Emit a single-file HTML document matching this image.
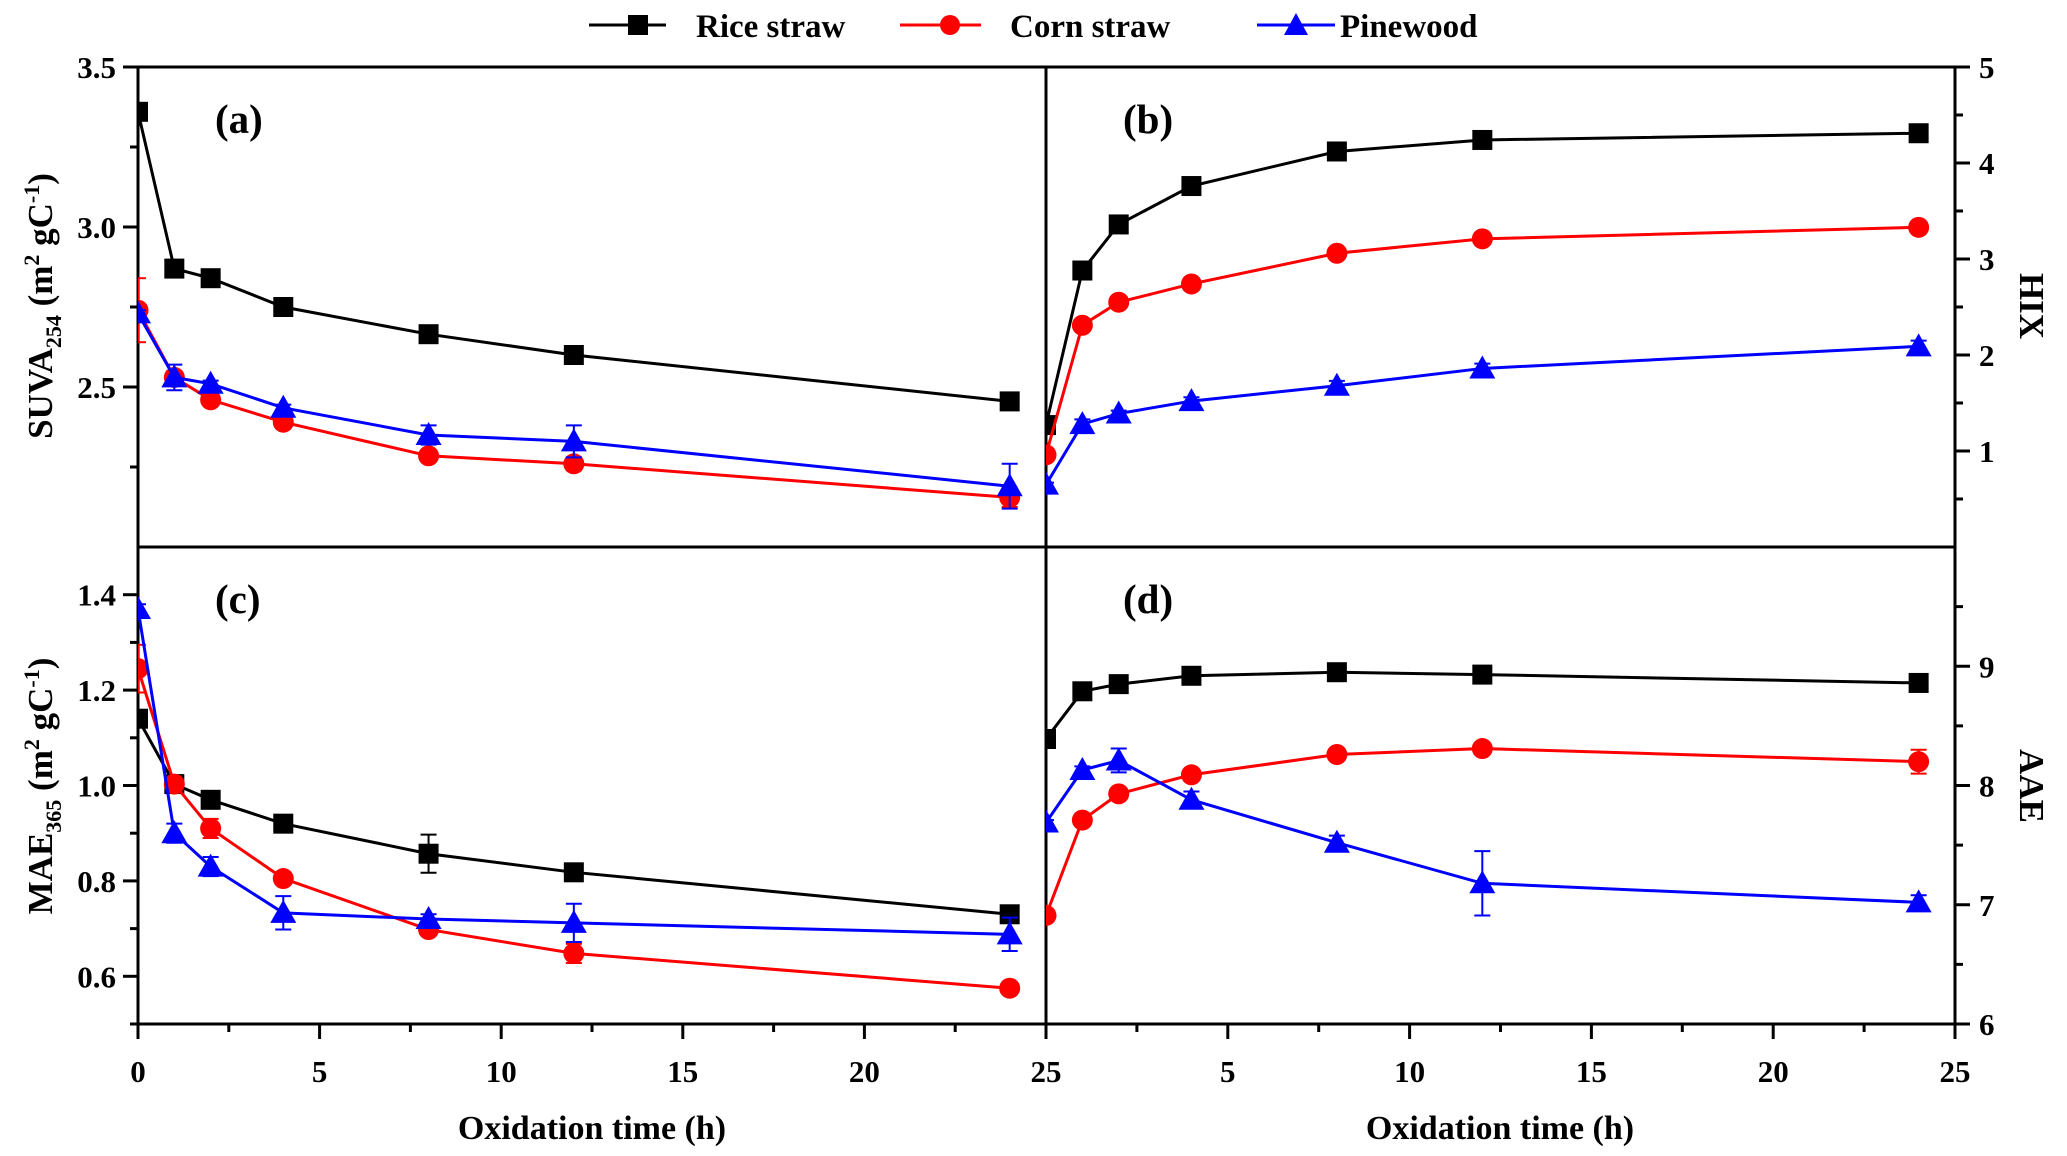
<!DOCTYPE html>
<html><head><meta charset="utf-8"><style>
html,body{margin:0;padding:0;background:#fff;}
svg{display:block;font-family:"Liberation Serif",serif;font-weight:bold;}
</style></head><body>
<svg id="chart" width="2067" height="1156" viewBox="0 0 2067 1156" xmlns="http://www.w3.org/2000/svg">
<defs>
<clipPath id="clipL"><rect x="138" y="67" width="908" height="957"/></clipPath>
<clipPath id="clipR"><rect x="1046" y="67" width="909" height="957"/></clipPath>
</defs>
<g id="legend">
 <g>
  <line x1="589" y1="25" x2="666" y2="25" stroke="#000" stroke-width="3"/>
  <rect x="628" y="15" width="20" height="20" fill="#000"/>
  <text x="696" y="37" font-size="33">Rice straw</text>
 </g>
 <g>
  <line x1="900" y1="25" x2="981" y2="25" stroke="#f00" stroke-width="3"/>
  <circle cx="950" cy="25" r="10" fill="#f00"/>
  <text x="1010" y="37" font-size="33">Corn straw</text>
 </g>
 <g>
  <line x1="1257" y1="25" x2="1335" y2="25" stroke="#00f" stroke-width="3"/>
  <polygon points="1296,13 1308,35 1284,35" fill="#00f"/>
  <text x="1340" y="37" font-size="33">Pinewood</text>
 </g>
</g>
<g id="plots"></g>
<text x="592" y="1139" font-size="34" text-anchor="middle">Oxidation time (h)</text>
<text x="1500" y="1139" font-size="34" text-anchor="middle">Oxidation time (h)</text>
<text transform="translate(52,306) rotate(-90)" font-size="35" text-anchor="middle">SUVA<tspan font-size="22" dy="9">254</tspan><tspan dy="-9"> (m</tspan><tspan font-size="22" dy="-13">2</tspan><tspan dy="13"> gC</tspan><tspan font-size="22" dy="-13">-1</tspan><tspan dy="13">)</tspan></text>
<text transform="translate(52,786) rotate(-90)" font-size="35" text-anchor="middle">MAE<tspan font-size="22" dy="9">365</tspan><tspan dy="-9"> (m</tspan><tspan font-size="22" dy="-13">2</tspan><tspan dy="13"> gC</tspan><tspan font-size="22" dy="-13">-1</tspan><tspan dy="13">)</tspan></text>
<text transform="translate(2020,306) rotate(90)" font-size="35" text-anchor="middle">HIX</text>
<text transform="translate(2020,786) rotate(90)" font-size="35" text-anchor="middle">AAE</text>
</svg>
<script>
const times = [0, 1, 2, 4, 8, 12, 24];
const suvaRice = [3.36, 2.87, 2.84, 2.75, 2.665, 2.60, 2.455];
const suvaCorn = [2.74, 2.53, 2.46, 2.39, 2.285, 2.26, 2.155];
const suvaPine = [2.73, 2.53, 2.51, 2.435, 2.35, 2.33, 2.19];
const suvaCornErr = [0.1, 0.02, 0.01, 0.01, 0.01, 0.02, 0.03];
const suvaPineErr = [0.01, 0.04, 0.01, 0.01, 0.03, 0.05, 0.07];
const hixRice = [1.27, 2.88, 3.36, 3.76, 4.12, 4.24, 4.31];
const hixCorn = [0.96, 2.31, 2.55, 2.74, 3.06, 3.21, 3.33];
const hixPine = [0.65, 1.28, 1.39, 1.52, 1.68, 1.86, 2.09];
const hixPineErr = [0.02, 0.05, 0.03, 0.04, 0.05, 0.05, 0.06];
const maeRice = [1.14, 1.003, 0.97, 0.92, 0.857, 0.818, 0.73];
const maeCorn = [1.245, 1.003, 0.91, 0.805, 0.698, 0.648, 0.575];
const maePine = [1.37, 0.90, 0.83, 0.733, 0.72, 0.712, 0.688];
const maeRiceErr = [0.01, 0.01, 0.01, 0.01, 0.04, 0.01, 0.01];
const maeCornErr = [0.05, 0.01, 0.02, 0.01, 0.01, 0.02, 0.01];
const maePineErr = [0.01, 0.02, 0.02, 0.035, 0.01, 0.04, 0.035];
const aaeRice = [8.39, 8.79, 8.85, 8.92, 8.95, 8.93, 8.86];
const aaeCorn = [6.91, 7.71, 7.93, 8.09, 8.26, 8.31, 8.20];
const aaePine = [7.69, 8.13, 8.21, 7.88, 7.52, 7.18, 7.02];
const aaeCornErr = [0.02, 0.02, 0.03, 0.03, 0.03, 0.03, 0.1];
const aaePineErr = [0.02, 0.03, 0.1, 0.07, 0.06, 0.27, 0.06];
const xTicks = [0, 5, 10, 15, 20, 25];

const NS = 'http://www.w3.org/2000/svg';
const root = document.getElementById('plots');
function mk(tag, attrs, parent) {
  const e = document.createElementNS(NS, tag);
  for (const k in attrs) e.setAttribute(k, attrs[k]);
  parent.appendChild(e);
  return e;
}
const panels = [
  {id:'a', x0:138, x1:1046, y0:67, y1:547, ymin:2.0, ymax:3.5, major:[2.5,3.0,3.5], minor:[2.25,2.75,3.25], fmt:v=>v.toFixed(1), side:'left', clip:'clipL',
   series:[[suvaRice,null,'#000','sq'],[suvaCorn,suvaCornErr,'#f00','ci'],[suvaPine,suvaPineErr,'#00f','tr']], xlabels:false},
  {id:'b', x0:1046, x1:1955, y0:67, y1:547, ymin:0, ymax:5, major:[1,2,3,4,5], minor:[0.5,1.5,2.5,3.5,4.5], fmt:v=>String(v), side:'right', clip:'clipR',
   series:[[hixRice,null,'#000','sq'],[hixCorn,null,'#f00','ci'],[hixPine,hixPineErr,'#00f','tr']], xlabels:false},
  {id:'c', x0:138, x1:1046, y0:547, y1:1024, ymin:0.5, ymax:1.5, major:[0.6,0.8,1.0,1.2,1.4], minor:[0.5,0.7,0.9,1.1,1.3], fmt:v=>v.toFixed(1), side:'left', clip:'clipL',
   series:[[maeRice,maeRiceErr,'#000','sq'],[maeCorn,maeCornErr,'#f00','ci'],[maePine,maePineErr,'#00f','tr']], xlabels:true},
  {id:'d', x0:1046, x1:1955, y0:547, y1:1024, ymin:6, ymax:10, major:[6,7,8,9], minor:[6.5,7.5,8.5,9.5], fmt:v=>String(v), side:'right', clip:'clipR',
   series:[[aaeRice,null,'#000','sq'],[aaeCorn,aaeCornErr,'#f00','ci'],[aaePine,aaePineErr,'#00f','tr']], xlabels:true}
];
const names = ['rice-straw','corn-straw','pinewood'];
panels.forEach(p => {
  const g = mk('g', {}, root);
  
  
  const X = t => p.x0 + (t / 25) * (p.x1 - p.x0);
  const Y = v => p.y1 - (v - p.ymin) / (p.ymax - p.ymin) * (p.y1 - p.y0);
  const fr = mk('rect', {x:p.x0, y:p.y0, width:p.x1-p.x0, height:p.y1-p.y0, fill:'none', stroke:'#000', 'stroke-width':3}, g);
  
  
  const ax = p.side === 'left' ? p.x0 : p.x1;
  const dir = p.side === 'left' ? -1 : 1;
  p.major.forEach(v => {
    mk('line', {x1:ax, x2:ax+dir*15, y1:Y(v), y2:Y(v), stroke:'#000', 'stroke-width':3}, g);
    const t = mk('text', {x: p.side==='left' ? ax-22 : ax+24, y:Y(v)+11, 'font-size':31, 'text-anchor': p.side==='left' ? 'end' : 'start'}, g);
    t.textContent = p.fmt(v);
    
    
  });
  p.minor.forEach(v => {
    mk('line', {x1:ax, x2:ax+dir*8, y1:Y(v), y2:Y(v), stroke:'#000', 'stroke-width':3}, g);
  });
  if (p.xlabels) {
    xTicks.forEach(v => {
      mk('line', {x1:X(v), x2:X(v), y1:p.y1, y2:p.y1+15, stroke:'#000', 'stroke-width':3}, g);
      if (!(p.id === 'd' && v === 0)) {
        const t = mk('text', {x:X(v), y:p.y1+58, 'font-size':31, 'text-anchor':'middle'}, g);
        t.textContent = String(v);
        
        
      }
    });
    [2.5, 7.5, 12.5, 17.5, 22.5].forEach(v => {
      mk('line', {x1:X(v), x2:X(v), y1:p.y1, y2:p.y1+8, stroke:'#000', 'stroke-width':3}, g);
    });
  }
  const lab = mk('text', {x:p.x0+77, y:p.y0+66, 'font-size':41}, g);
  lab.textContent = '(' + p.id + ')';
  
  
  const cg = mk('g', {'clip-path':'url(#' + p.clip + ')'}, g);
  p.series.forEach((s, si) => {
    const [vals, err, col, shp] = s;
    const sg = mk('g', {}, cg);
    
    
    const pts = times.map((t, i) => X(t) + ',' + Y(vals[i])).join(' ');
    mk('polyline', {points:pts, fill:'none', stroke:col, 'stroke-width':3}, sg);
    times.forEach((t, i) => {
      const cx = X(t), cy = Y(vals[i]);
      if (err) {
        const e = err[i], ya = Y(vals[i] + e), yb = Y(vals[i] - e);
        mk('line', {x1:cx, x2:cx, y1:ya, y2:yb, stroke:col, 'stroke-width':2}, sg);
        mk('line', {x1:cx-8, x2:cx+8, y1:ya, y2:ya, stroke:col, 'stroke-width':2}, sg);
        mk('line', {x1:cx-8, x2:cx+8, y1:yb, y2:yb, stroke:col, 'stroke-width':2}, sg);
      }
      let m;
      if (shp === 'sq') m = mk('rect', {x:cx-10, y:cy-10, width:20, height:20, fill:col}, sg);
      else if (shp === 'ci') m = mk('circle', {cx:cx, cy:cy, r:10.5, fill:col}, sg);
      else m = mk('polygon', {points:(cx)+','+(cy-13)+' '+(cx+13)+','+(cy+10)+' '+(cx-13)+','+(cy+10), fill:col}, sg);
      
      
    });
  });
});
</script>
</body></html>
